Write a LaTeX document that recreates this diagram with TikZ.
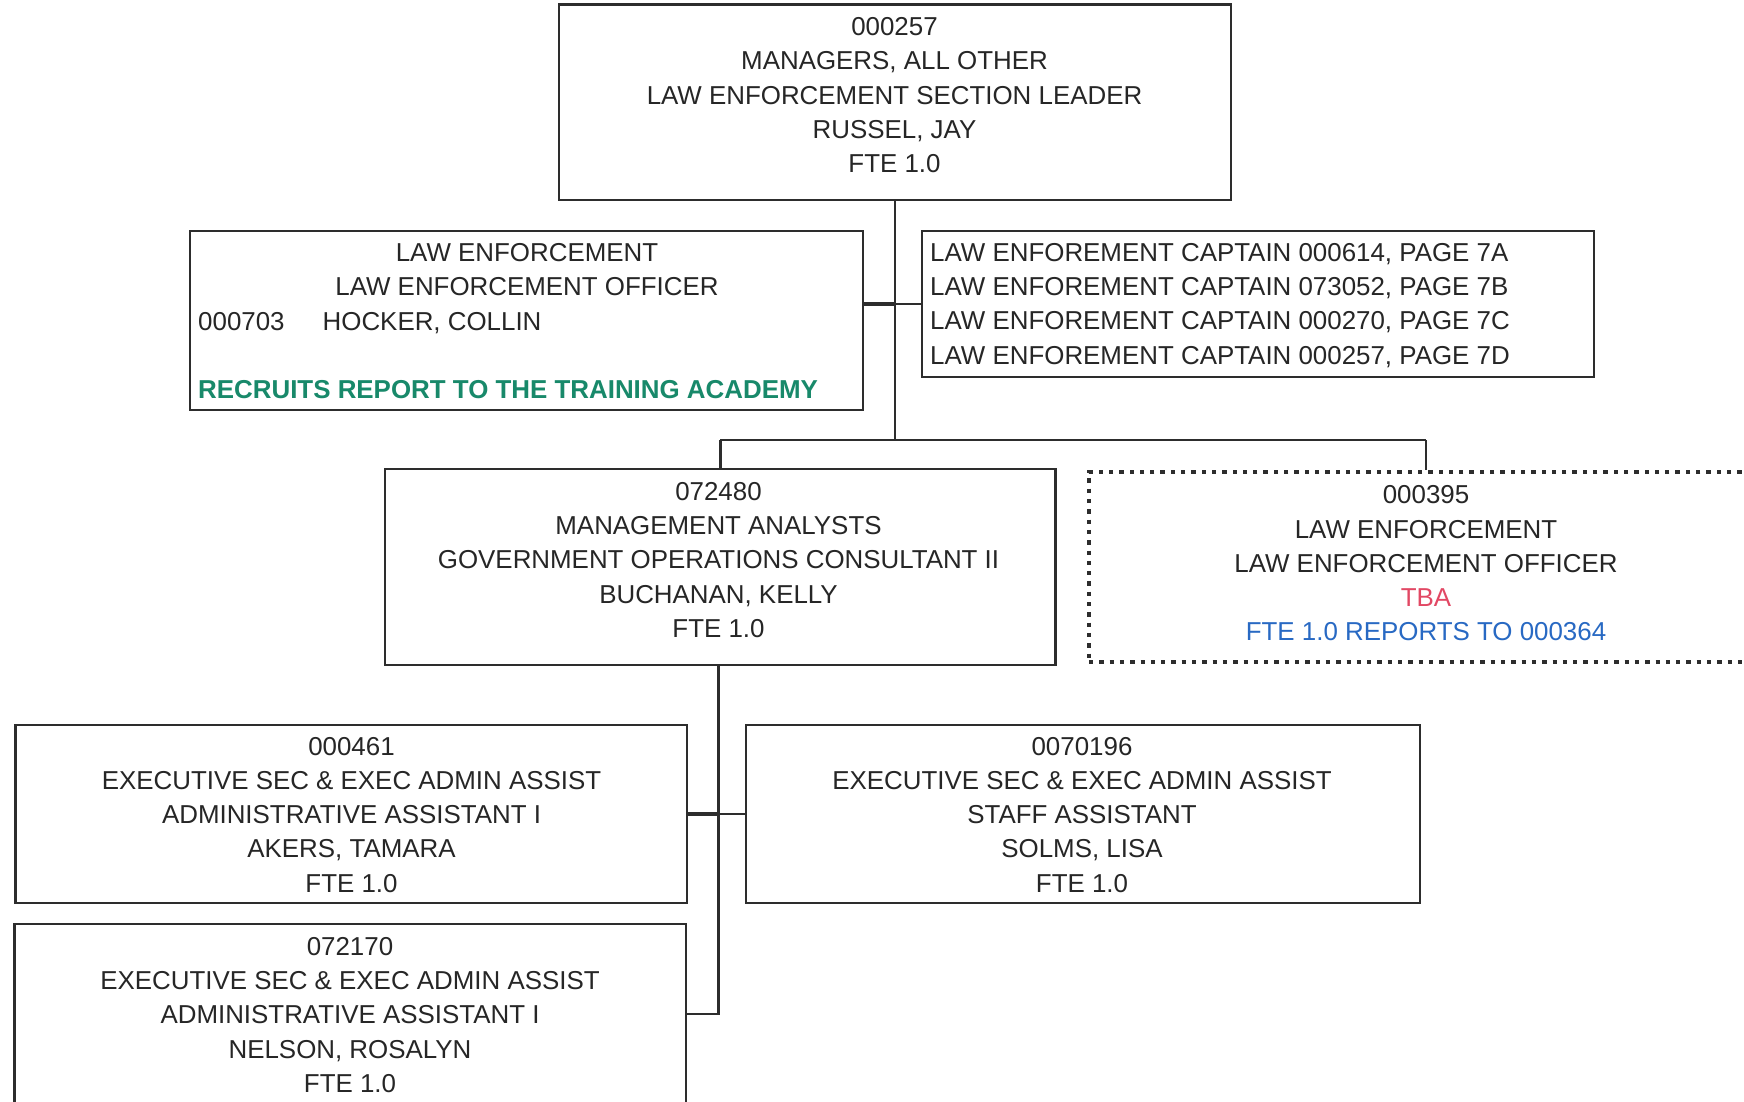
\documentclass[tikz,border=0pt]{standalone}
\usepackage{fontspec}
\setmainfont{Liberation Sans}
\definecolor{ink}{RGB}{38,38,38}
\definecolor{frame}{RGB}{45,45,45}
\definecolor{recruit}{RGB}{24,137,106}
\definecolor{tbared}{RGB}{226,72,100}
\definecolor{rptblue}{RGB}{40,105,195}
\begin{document}
\begin{tikzpicture}[x=1pt,y=-1pt,
  posbox/.style={draw=frame, line width=2.4pt, rectangle, inner sep=0pt},
  vacant/.style={draw=frame, line width=4.3pt, dash pattern=on 4.3pt off 6pt, rectangle, inner sep=0pt},
  lbl/.style={inner sep=0pt, text=ink, font=\fontsize{25.9}{34.2}\selectfont},
  conn/.style={draw=frame, line width=2.5pt},
  stub/.style={draw=frame, line width=3.3pt}]
\useasboundingbox (0,0) rectangle (1744,1101);
\fill[white] (0,0) rectangle (1744,1101);
\clip (0,0) rectangle (1744,1101);

% position boxes
\node[posbox, minimum width=672pt, minimum height=195.5pt] (top)    at (895,102.25) {};
\node[posbox, minimum width=673pt, minimum height=179pt]   (le)     at (526.5,320.5) {};
\node[posbox, minimum width=672pt, minimum height=146pt]   (cap)    at (1258,304) {};
\node[posbox, minimum width=670.5pt, minimum height=196pt] (ma)     at (720.25,567) {};
\node[vacant, minimum width=674pt, minimum height=190.3pt] (tba)    at (1426,566.85) {};
\node[posbox, minimum width=671.4pt, minimum height=178pt] (akers)  at (351.3,814) {};
\node[posbox, minimum width=674pt, minimum height=178pt]   (solms)  at (1083,814) {};
\node[posbox, minimum width=671.5pt, minimum height=196pt] (nelson) at (350.25,1022) {};

% box texts
\node[lbl, align=center, anchor=north] (toptxt) at (894.5,17.4)
  {000257\\MANAGERS, ALL OTHER\\LAW ENFORCEMENT SECTION LEADER\\RUSSEL, JAY\\FTE 1.0};
\node[lbl, align=center, anchor=north] (letxt) at (527,243.2)
  {LAW ENFORCEMENT\\LAW ENFORCEMENT OFFICER};
\node[lbl, anchor=north west] (lename) at (198,312.1)
  {\makebox[124.5pt][l]{000703}HOCKER, COLLIN};
\node[lbl, anchor=north west, text=recruit, font=\fontsize{25.9}{34.2}\selectfont\bfseries] (lenote) at (198,380)
  {RECRUITS REPORT TO THE TRAINING ACADEMY};
\node[lbl, align=left, anchor=north west] (captxt) at (930,243.2)
  {LAW ENFOREMENT CAPTAIN 000614, PAGE 7A\\LAW ENFOREMENT CAPTAIN 073052, PAGE 7B\\LAW ENFOREMENT CAPTAIN 000270, PAGE 7C\\LAW ENFOREMENT CAPTAIN 000257, PAGE 7D};
\node[lbl, align=center, anchor=north] (matxt) at (718.5,482.3)
  {072480\\MANAGEMENT ANALYSTS\\GOVERNMENT OPERATIONS CONSULTANT II\\BUCHANAN, KELLY\\FTE 1.0};
\node[lbl, align=center, anchor=north] (tbatxt) at (1426,485.7)
  {000395\\LAW ENFORCEMENT\\LAW ENFORCEMENT OFFICER\\\textcolor{tbared}{TBA}\\\textcolor{rptblue}{FTE 1.0 REPORTS TO 000364}};
\node[lbl, align=center, anchor=north] (akerstxt) at (351.5,737)
  {000461\\EXECUTIVE SEC \& EXEC ADMIN ASSIST\\ADMINISTRATIVE ASSISTANT I\\AKERS, TAMARA\\FTE 1.0};
\node[lbl, align=center, anchor=north] (solmstxt) at (1082,737)
  {0070196\\EXECUTIVE SEC \& EXEC ADMIN ASSIST\\STAFF ASSISTANT\\SOLMS, LISA\\FTE 1.0};
\node[lbl, align=center, anchor=north] (nelsontxt) at (350,937.2)
  {072170\\EXECUTIVE SEC \& EXEC ADMIN ASSIST\\ADMINISTRATIVE ASSISTANT I\\NELSON, ROSALYN\\FTE 1.0};

% reporting lines
\coordinate (barL) at (720.25,440);
\coordinate (barR) at (1426,440);
\coordinate (lowTurn) at (718.5,1014);
\draw[conn] (top.south) -- (top.south |- barL);
\draw[conn, line width=2.7pt] (barL) -- (barR);
\draw[conn] (barL) -- (ma.north);
\draw[conn] (barR) -- (tba.north);
\draw[stub] (le.east |- cap.west) -- (top.south |- cap.west);
\draw[conn] (top.south |- cap.west) -- (cap.west);
\draw[conn] (lowTurn |- ma.south) -- (lowTurn) -- (lowTurn -| nelson.east);
\draw[stub] (akers.east) -- (lowTurn |- akers.east);
\draw[conn] (lowTurn |- akers.east) -- (solms.west);
\end{tikzpicture}
\end{document}
